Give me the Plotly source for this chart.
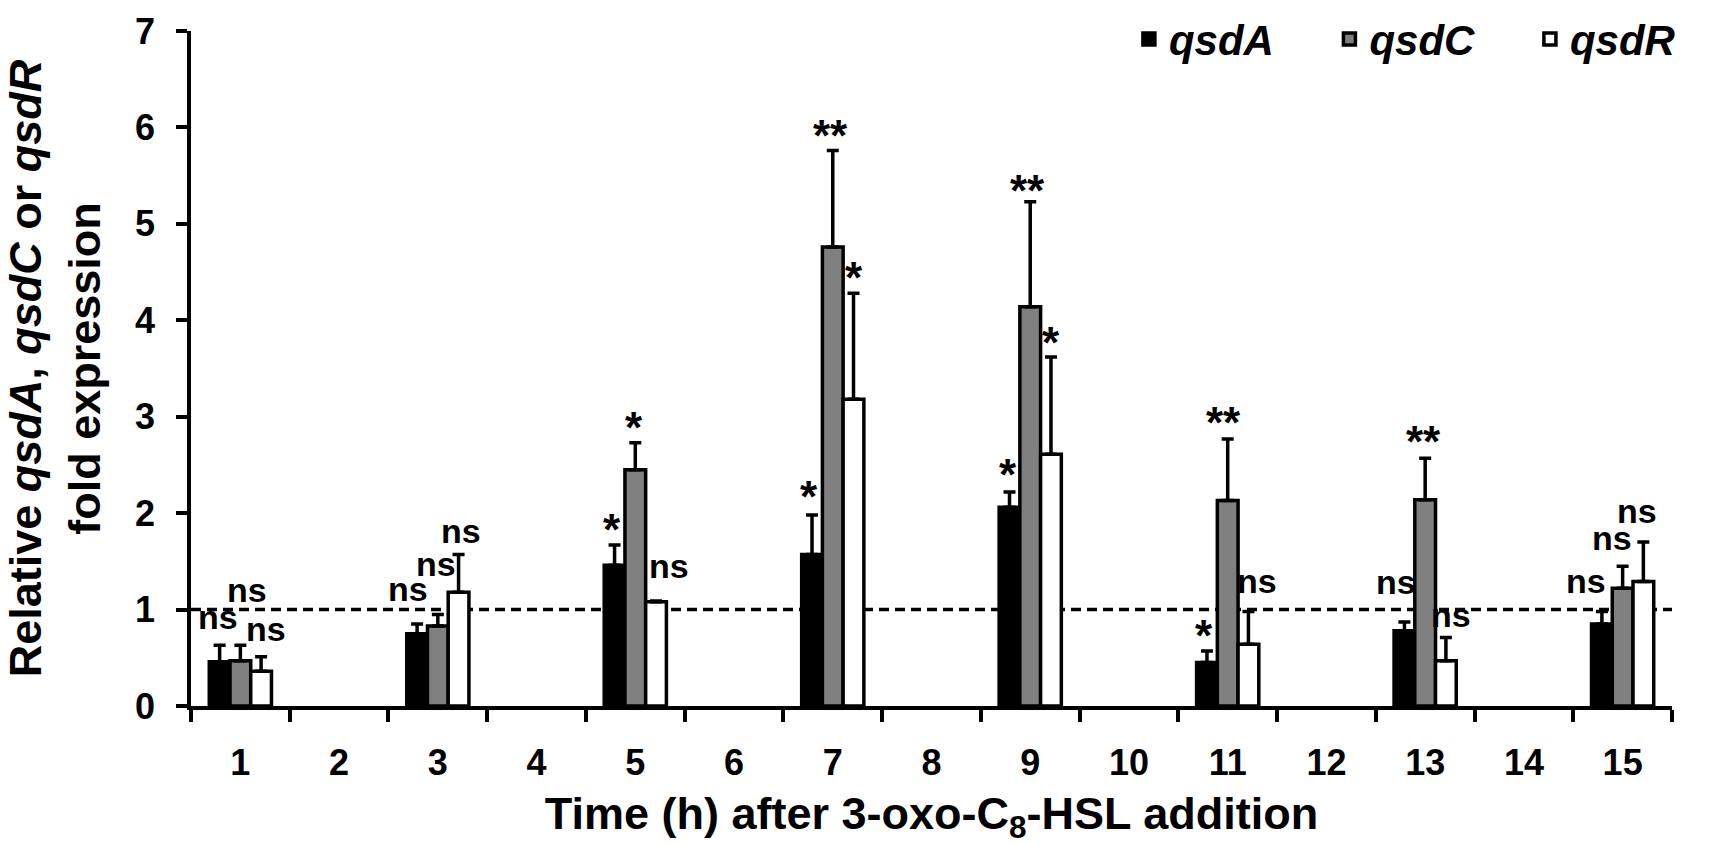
import plotly.graph_objects as go

# Données (moyenne + erreur positive)
hours = [1, 3, 5, 7, 9, 11, 13, 15]
all_hours = list(range(1, 16))

qsdA_mean = [0.46, 0.75, 1.46, 1.57, 2.06, 0.45, 0.78, 0.85]
qsdA_err = [0.17, 0.10, 0.21, 0.41, 0.16, 0.12, 0.09, 0.13]
qsdC_mean = [0.47, 0.83, 2.45, 4.76, 4.14, 2.13, 2.14, 1.22]
qsdC_err = [0.16, 0.12, 0.28, 1.00, 1.09, 0.64, 0.43, 0.23]
qsdR_mean = [0.36, 1.18, 1.08, 3.18, 2.61, 0.64, 0.47, 1.29]
qsdR_err = [0.15, 0.39, 0.01, 1.10, 1.01, 0.34, 0.24, 0.41]

qsdA_sig = ["ns", "ns", "*", "*", "*", "*", "ns", "ns"]
qsdC_sig = ["ns", "ns", "*", "**", "**", "**", "**", "ns"]
qsdR_sig = ["ns", "ns", "ns", "*", "*", "ns", "ns", "ns"]

# petits décalages (px) des étiquettes pour éviter les chevauchements
qsdA_dx = [-2, -9, -3, -3, -2, -3, -8, -16]
qsdA_dy = [0, 7, 0, 3, 2, 0, 12, 3]
qsdC_dx = [7, -2, -1, -2, -3, -4, -2, -11]
qsdC_dy = [27, 22, 0, 0, -4, 1, 1, 0]
qsdR_dx = [5, 2, 13, 0, 0, 9, 5, -6]
qsdR_dy = [0, -4, 7, 0, -1, 3, -5, 3]

FONT = "Liberation Sans, Arial, sans-serif"
BAR_W = 0.21
LW = 3.5

series = [
    ("qsdA", qsdA_mean, qsdA_err, qsdA_sig, qsdA_dx, qsdA_dy, "black", -1.5),
    ("qsdC", qsdC_mean, qsdC_err, qsdC_sig, qsdC_dx, qsdC_dy, "#808080", -0.5),
    ("qsdR", qsdR_mean, qsdR_err, qsdR_sig, qsdR_dx, qsdR_dy, "white", 0.5),
]

fig = go.Figure()
annotations = []

for name, mean, err, sig, dx, dy, color, k in series:
    fig.add_trace(
        go.Bar(
            x=hours,
            y=mean,
            name=f"<i>{name}</i>",
            width=BAR_W,
            offset=k * BAR_W,
            marker=dict(color=color, line=dict(color="black", width=LW)),
            error_y=dict(
                type="data",
                array=err,
                arrayminus=[0] * len(err),
                symmetric=False,
                color="black",
                thickness=LW,
                width=6,
            ),
        )
    )
    for h, m, e, s, sx, sy in zip(hours, mean, err, sig, dx, dy):
        # les astérisques sont plus gros que "ns" dans l'original
        if s == "ns":
            size, base = 34, 7
        else:
            size, base = 44, -11
        annotations.append(
            dict(
                x=h + (k + 0.5) * BAR_W,
                y=m + e,
                xref="x",
                yref="y",
                text=s,
                showarrow=False,
                yanchor="bottom",
                xshift=sx,
                yshift=base + sy,
                font=dict(family=FONT, size=size, color="black", weight="bold"),
            )
        )

# ligne de référence à 1
fig.add_shape(
    type="line",
    xref="paper",
    x0=0,
    x1=1,
    yref="y",
    y0=1,
    y1=1,
    layer="below",
    line=dict(color="black", width=LW, dash="10px,6px"),
)

fig.update_layout(
    width=1736,
    height=845,
    margin=dict(l=184, r=5, t=20, b=139),
    paper_bgcolor="white",
    plot_bgcolor="white",
    font=dict(family=FONT, color="black", weight="bold"),
    barmode="overlay",
    annotations=annotations,
    showlegend=True,
    legend=dict(
        orientation="h",
        x=0.6333,
        xanchor="left",
        y=0.988,
        yanchor="middle",
        entrywidth=155.5,
        font=dict(family=FONT, size=42, color="black", weight="bold"),
        bgcolor="rgba(0,0,0,0)",
    ),
    xaxis=dict(
        range=[0.5, 15.5],
        tickmode="array",
        tickvals=all_hours,
        ticktext=[str(h) for h in all_hours],
        ticks="",
        ticklabelstandoff=22,
        showline=True,
        linecolor="black",
        linewidth=LW,
        showgrid=False,
        zeroline=False,
        tickfont=dict(family=FONT, size=36, color="black", weight="bold"),
        minor=dict(
            tickmode="array",
            tickvals=[h - 0.5 for h in all_hours] + [15.5],
            ticks="outside",
            ticklen=12,
            tickwidth=LW,
            tickcolor="black",
            showgrid=False,
        ),
        title=dict(
            text="Time (h) after 3-oxo-C<sub>8</sub>-HSL addition",
            font=dict(family=FONT, size=45, color="black", weight="bold"),
            standoff=20,
        ),
    ),
    yaxis=dict(
        range=[0, 7],
        tickmode="array",
        tickvals=list(range(0, 8)),
        ticks="outside",
        ticklen=11,
        tickwidth=LW,
        tickcolor="black",
        ticklabelstandoff=14,
        showline=True,
        linecolor="black",
        linewidth=LW,
        showgrid=False,
        zeroline=False,
        tickfont=dict(family=FONT, size=36, color="black", weight="bold"),
        title=dict(
            text="Relative <i>qsdA</i>, <i>qsdC</i> or <i>qsdR</i><br>fold expression",
            font=dict(family=FONT, size=45, color="black", weight="bold"),
            standoff=40,
        ),
    ),
)

# la page par défaut garde une marge de 8 px autour du graphique
fig.write_html(
    "out.html",
    config={"displayModeBar": False},
    post_script="document.body.style.margin='0';",
)
